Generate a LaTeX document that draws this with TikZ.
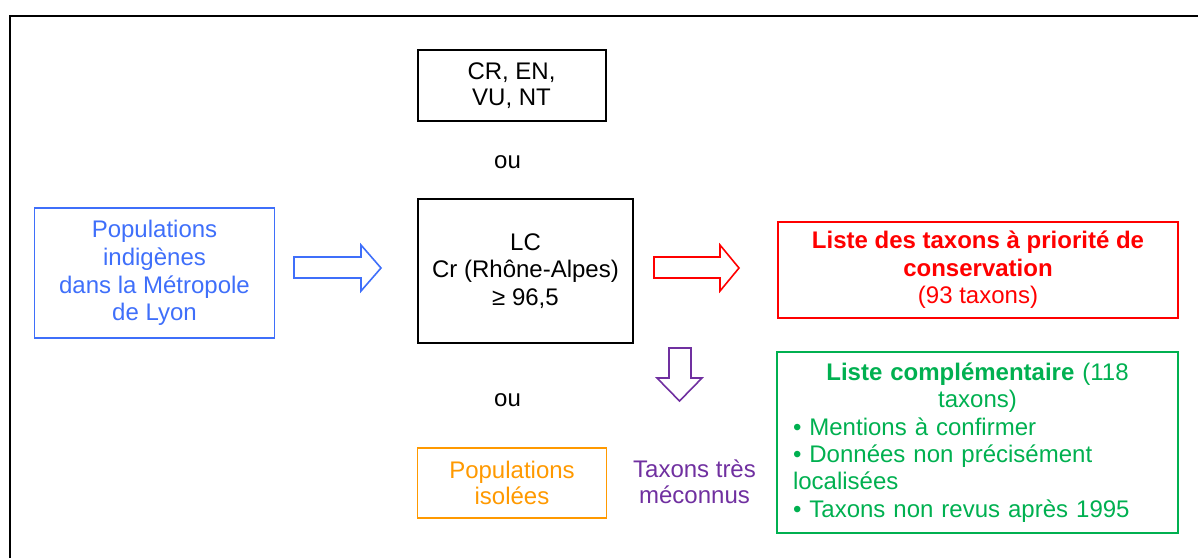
\documentclass[tikz,border=0pt]{standalone}
\usepackage{fontspec}
\setmainfont{Liberation Sans}
\definecolor{lyblue}{HTML}{3F6FFA}
\definecolor{lyred}{HTML}{FF0000}
\definecolor{lygreen}{HTML}{00B050}
\definecolor{lyorange}{HTML}{FF9900}
\definecolor{lypurple}{HTML}{7030A0}
\begin{document}
\begin{tikzpicture}[x=1pt,y=-1pt,
  txt/.style={font=\fontsize{24pt}{27.6pt}\selectfont},
  box/.style={txt, draw, line width=1.7pt, inner sep=0pt, align=center},
  blockarrow/.style={line width=1.6pt, fill=white, line join=miter}]
\useasboundingbox (0,0) rectangle (1198,558);
% frame
\draw[line width=2pt, black] (10.3,558) -- (10.3,15.7) -- (1198,15.7);
% boxes
\node[box, draw=lyblue, text=lyblue, minimum width=240pt, minimum height=130pt] (indig) at (154.5,273)
  {Populations\\indigènes\\dans la Métropole\\de Lyon};
\node[box, line width=2pt, minimum width=188pt, minimum height=71pt,
  font=\fontsize{24pt}{25.3pt}\selectfont] (uicn) at (511.5,85.5) {CR, EN,\\VU, NT};
\node[txt, anchor=base] (ou1) at (507.5,168) {ou};
\node[box, line width=2pt, minimum width=215pt, minimum height=144pt] (lc) at (525.5,271)
  {LC\\Cr (Rhône-Alpes)\\≥ 96,5};
\node[txt, anchor=base] (ou2) at (507.5,406) {ou};
\node[box, draw=lyorange, text=lyorange, minimum width=189pt, minimum height=70pt,
  font=\fontsize{24pt}{26.5pt}\selectfont] (isol) at (512,483) {Populations\\isolées};
\node[txt, text=lypurple, align=center, inner sep=0pt,
  font=\fontsize{24pt}{26.5pt}\selectfont] (mecon) at (694.5,482) {Taxons très\\méconnus};
\node[box, draw=lyred, text=lyred, minimum width=400pt, minimum height=96pt] (prio) at (978,270)
  {\textbf{Liste des taxons à priorité de}\\\textbf{conservation}\\(93 taxons)};
\node[box, draw=lygreen, text=lygreen, minimum width=401pt, minimum height=181pt,
  text width=369pt, font=\fontsize{24pt}{27.3pt}\selectfont] (compl) at (977.5,442.5)
  {\textbf{Liste complémentaire} (118\\taxons)\\
   \makebox[369pt][l]{• Mentions à confirmer}\\
   \makebox[369pt][l]{• Données non précisément}\\
   \makebox[369pt][l]{localisées}\\
   \makebox[369pt][l]{• Taxons non revus après 1995}};
% block arrows
\draw[blockarrow, draw=lyblue] (294,257) -- (361,257) -- (361,245) -- (381,268)
  -- (361,291) -- (361,278) -- (294,278) -- cycle;
\draw[blockarrow, draw=lyred] (654,257) -- (720,257) -- (720,245) -- (739,268)
  -- (720,291) -- (720,278) -- (654,278) -- cycle;
\draw[blockarrow, draw=lypurple] (669,348) -- (691,348) -- (691,378) -- (702,378)
  -- (679.5,401) -- (657,378) -- (669,378) -- cycle;
\end{tikzpicture}
\end{document}
